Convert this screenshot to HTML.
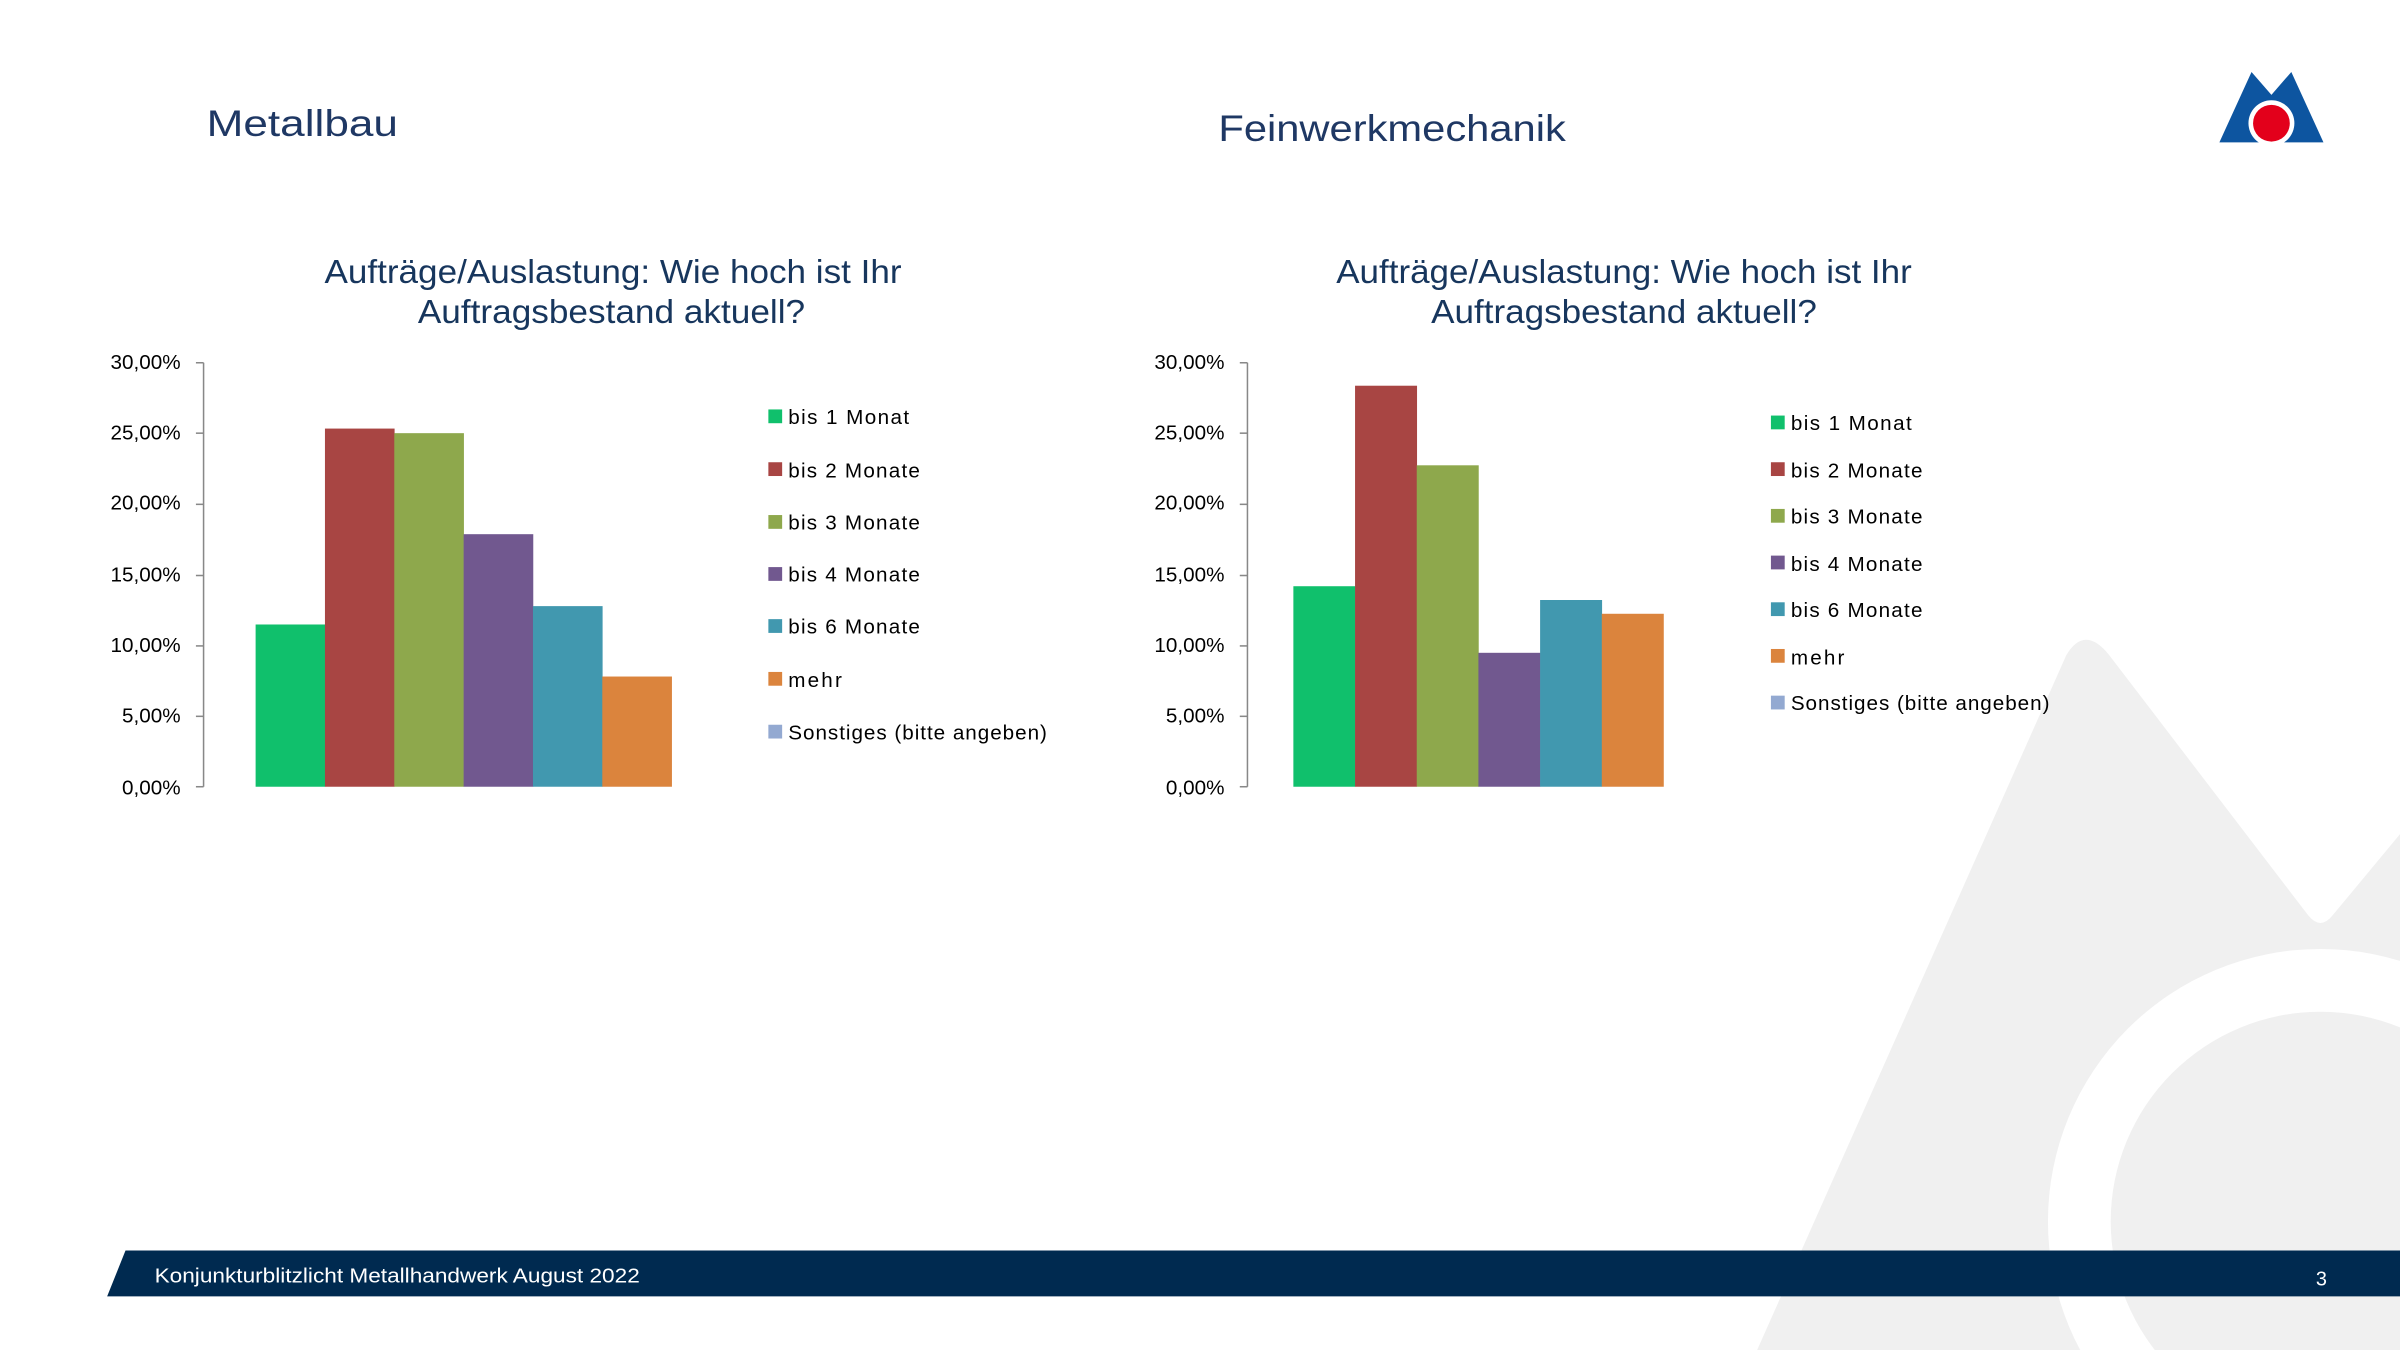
<!DOCTYPE html>
<html><head><meta charset="utf-8"><style>
html,body{margin:0;padding:0;background:#fff;width:2400px;height:1350px;overflow:hidden}
svg{display:block}
</style></head><body>
<svg width="2400" height="1350" viewBox="0 0 1568 882" xmlns="http://www.w3.org/2000/svg" font-family="'Liberation Sans', sans-serif">
<path d="M1148,882 L1350,428 Q1362,408 1378,428 L1508,598 Q1516,608 1524,598 L1568,545 L1568,882 Z" fill="#f0f0f0"/>
<circle cx="1516" cy="798" r="178" fill="#fff"/>
<circle cx="1516" cy="798" r="137" fill="#f0f0f0"/>
<path d="M82,817 L1568,817 L1568,847 L70,847 Z" fill="#002a50"/>
<text x="101" y="838" font-size="13" fill="#fff" textLength="317" lengthAdjust="spacingAndGlyphs">Konjunkturblitzlicht Metallhandwerk August 2022</text>
<text x="1513" y="840" font-size="13" fill="#fff">3</text>
<path d="M1450,93 L1471,47 L1484,62 L1497,47 L1518,93 Z" fill="#0d55a0"/>
<circle cx="1484" cy="80.5" r="15" fill="#fff"/>
<circle cx="1484" cy="80.5" r="12" fill="#e3001b"/>
<text x="135" y="89" font-size="24" fill="#1f3864" textLength="125" lengthAdjust="spacingAndGlyphs">Metallbau</text>
<text x="796" y="92" font-size="24" fill="#1f3864" textLength="227" lengthAdjust="spacingAndGlyphs">Feinwerkmechanik</text>

<g fill="#17365d" font-size="21.5">
<text x="212" y="185" textLength="377" lengthAdjust="spacingAndGlyphs">Aufträge/Auslastung: Wie hoch ist Ihr</text>
<text x="273" y="211" textLength="253" lengthAdjust="spacingAndGlyphs">Auftragsbestand aktuell?</text>
<text x="873" y="185" textLength="376" lengthAdjust="spacingAndGlyphs">Aufträge/Auslastung: Wie hoch ist Ihr</text>
<text x="935" y="211" textLength="252" lengthAdjust="spacingAndGlyphs">Auftragsbestand aktuell?</text>
</g>
<g font-size="13.5" fill="#000" text-anchor="end">
<text x="118" y="241">30,00%</text><text x="118" y="287">25,00%</text><text x="118" y="333">20,00%</text>
<text x="118" y="380">15,00%</text><text x="118" y="426">10,00%</text><text x="118" y="472">5,00%</text><text x="118" y="519">0,00%</text>
<text x="800" y="241">30,00%</text><text x="800" y="287">25,00%</text><text x="800" y="333">20,00%</text>
<text x="800" y="380">15,00%</text><text x="800" y="426">10,00%</text><text x="800" y="472">5,00%</text><text x="800" y="519">0,00%</text>
</g>
<g stroke="#888" stroke-width="1">
<line x1="133" y1="237" x2="133" y2="514"/>
<line x1="128" y1="237" x2="133" y2="237"/><line x1="128" y1="283" x2="133" y2="283"/><line x1="128" y1="329.5" x2="133" y2="329.5"/>
<line x1="128" y1="376" x2="133" y2="376"/><line x1="128" y1="422" x2="133" y2="422"/><line x1="128" y1="468" x2="133" y2="468"/><line x1="128" y1="514" x2="133" y2="514"/>
<line x1="815" y1="237" x2="815" y2="514"/>
<line x1="810" y1="237" x2="815" y2="237"/><line x1="810" y1="283" x2="815" y2="283"/><line x1="810" y1="329.5" x2="815" y2="329.5"/>
<line x1="810" y1="376" x2="815" y2="376"/><line x1="810" y1="422" x2="815" y2="422"/><line x1="810" y1="468" x2="815" y2="468"/><line x1="810" y1="514" x2="815" y2="514"/>
</g>
<rect x="167" y="408" width="45.5" height="106" fill="#10c06c"/>
<rect x="212.3" y="280" width="45.5" height="234" fill="#a84543"/>
<rect x="257.6" y="283" width="45.5" height="231" fill="#8ea84c"/>
<rect x="302.9" y="349" width="45.5" height="165" fill="#71588f"/>
<rect x="348.2" y="396" width="45.5" height="118" fill="#4198af"/>
<rect x="393.5" y="442" width="45.5" height="72" fill="#db843d"/>
<rect x="845" y="383" width="40.5" height="131" fill="#10c06c"/>
<rect x="885.3" y="252" width="40.5" height="262" fill="#a84543"/>
<rect x="925.6" y="304" width="40.5" height="210" fill="#8ea84c"/>
<rect x="965.9" y="426.5" width="40.5" height="87.5" fill="#71588f"/>
<rect x="1006.2" y="392" width="40.5" height="122" fill="#4198af"/>
<rect x="1046.5" y="401" width="40.5" height="113" fill="#db843d"/>
<g font-size="13.5" fill="#000" lengthAdjust="spacingAndGlyphs">
<rect x="502" y="267.5" width="9" height="9" fill="#10c06c"/><text x="515" y="277" textLength="79">bis 1 Monat</text>
<rect x="502" y="302" width="9" height="9" fill="#a84543"/><text x="515" y="312" textLength="86">bis 2 Monate</text>
<rect x="502" y="336.5" width="9" height="9" fill="#8ea84c"/><text x="515" y="346" textLength="86">bis 3 Monate</text>
<rect x="502" y="370.5" width="9" height="9" fill="#71588f"/><text x="515" y="380" textLength="86">bis 4 Monate</text>
<rect x="502" y="404.5" width="9" height="9" fill="#4198af"/><text x="515" y="414" textLength="86">bis 6 Monate</text>
<rect x="502" y="439" width="9" height="9" fill="#db843d"/><text x="515" y="449" textLength="35">mehr</text>
<rect x="502" y="473.5" width="9" height="9" fill="#93a9d1"/><text x="515" y="483" textLength="169">Sonstiges (bitte angeben)</text>

<rect x="1157" y="271.5" width="9" height="9" fill="#10c06c"/><text x="1170" y="281" textLength="79">bis 1 Monat</text>
<rect x="1157" y="302" width="9" height="9" fill="#a84543"/><text x="1170" y="312" textLength="86">bis 2 Monate</text>
<rect x="1157" y="332.5" width="9" height="9" fill="#8ea84c"/><text x="1170" y="342" textLength="86">bis 3 Monate</text>
<rect x="1157" y="363" width="9" height="9" fill="#71588f"/><text x="1170" y="373" textLength="86">bis 4 Monate</text>
<rect x="1157" y="393.5" width="9" height="9" fill="#4198af"/><text x="1170" y="403" textLength="86">bis 6 Monate</text>
<rect x="1157" y="424" width="9" height="9" fill="#db843d"/><text x="1170" y="434" textLength="35">mehr</text>
<rect x="1157" y="454.5" width="9" height="9" fill="#93a9d1"/><text x="1170" y="464" textLength="169">Sonstiges (bitte angeben)</text>
</g>
</svg>
</body></html>
